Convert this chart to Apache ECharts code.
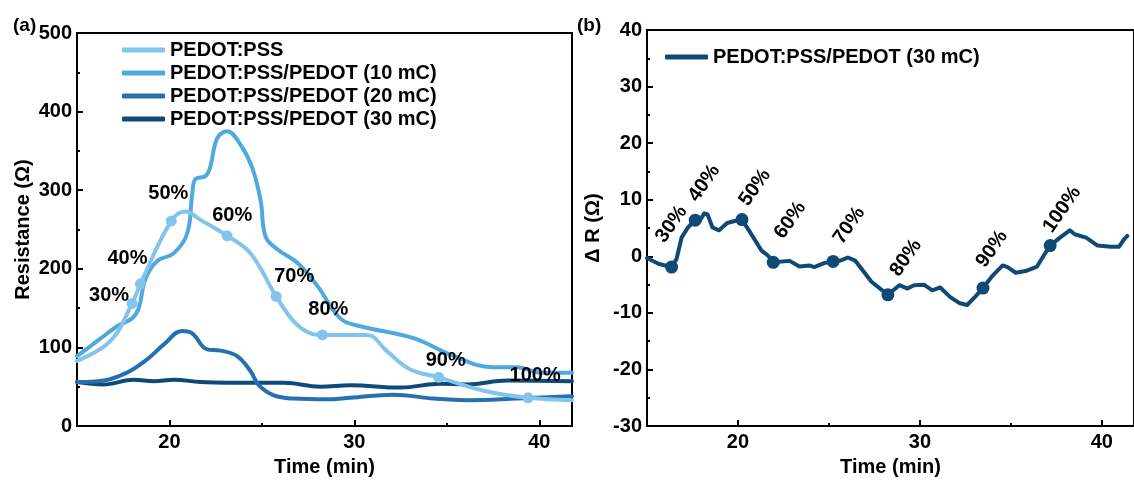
<!DOCTYPE html>
<html><head><meta charset="utf-8">
<script src="https://cdn.jsdelivr.net/npm/echarts@6/dist/echarts.min.js"></script>
<style>html,body{margin:0;padding:0;background:#fff}#c{width:1134px;height:482px}</style>
</head><body><div id="c"></div>
<script>
// ---------- data ----------
const seriesNames = ['PEDOT:PSS', 'PEDOT:PSS/PEDOT (10 mC)', 'PEDOT:PSS/PEDOT (20 mC)', 'PEDOT:PSS/PEDOT (30 mC)'];
const strainLabels = ['30%', '40%', '50%', '60%', '70%', '80%', '90%', '100%'];
const xTickLabels = [20, 30, 40];
const xMinorTicks = [25, 35];

const pssT = [15, 16.8, 17.98, 18.43, 20.1, 20.86, 21.7, 23.12, 24.38, 25.77, 26.73, 27.63, 28.27, 30.68, 31.77, 33.03, 34.56, 37.0, 39.4, 41.77];
const pssV = [83, 108, 156, 181, 261, 273, 262, 242, 220, 165, 133, 118, 116, 116, 95, 72, 62, 45, 36, 33];

const t10 = [15, 16.08, 17.17, 17.98, 18.34, 18.7, 19.33, 20.24, 20.96, 21.23, 21.4, 21.95, 22.2, 22.58, 23.12, 23.84, 24.47, 24.93, 25.2, 25.83, 26.9, 27.98, 29.24, 30.32, 33.2, 35.2, 37.45, 38.8, 40.07, 41.77];
const v10 = [89, 108, 127, 137, 150, 187, 210, 220, 245, 295, 314, 318, 329, 366, 375, 358, 329, 287, 241, 225, 208, 179, 137, 127, 112, 91, 75, 75, 68, 68];

const t20 = [15, 16.44, 17.7, 18.8, 19.7, 20.68, 21.23, 22.04, 22.76, 23.66, 24.38, 24.83, 25.65, 26.73, 28.5, 29.78, 32.1, 34.3, 36.1, 38.8, 41.77];
const v20 = [56, 58, 68, 85, 104, 121, 118, 97.5, 96, 89, 70, 52, 39, 35, 34, 36, 40, 35, 33, 35, 38];

const t30 = [15, 16.44, 18.07, 19.15, 20.24, 21.68, 23.12, 26.2, 28.16, 29.78, 32.5, 34.65, 36.1, 38.27, 41.77];
const v30 = [56, 53, 59, 57, 59, 56, 55, 55, 50, 52, 49, 54, 53, 58, 57];

const pssMarkT = [17.98, 18.43, 20.1, 23.12, 25.77, 28.27, 34.56, 39.4];
const pssMarkV = [156, 181, 261, 242, 165, 116, 62, 36];

const dT = [15, 15.63, 16.35, 16.62, 16.9, 17.25, 17.65, 17.88, 18.15, 18.33, 18.6, 18.96, 19.41, 19.77, 20.22, 20.68, 21.3, 21.66, 21.94, 22.84, 23.38, 23.92, 24.19, 24.73, 25.23, 25.63, 26.04, 26.44, 27.34, 28.24, 28.87, 29.32, 29.68, 30.22, 30.68, 31.12, 31.67, 32.2, 32.6, 33.02, 33.47, 34.0, 34.55, 34.82, 35.27, 35.81, 36.44, 36.8, 37.16, 37.7, 38.24, 38.51, 39.14, 39.77, 40.49, 40.95, 41.22, 41.4];
const dV = [-0.3, -1.3, -1.9, -0.5, 3.3, 5.1, 6.4, 6.2, 7.6, 7.4, 5.1, 4.6, 5.9, 6.2, 6.5, 4.2, 1.0, 0.1, -1.05, -0.8, -1.8, -1.6, -1.9, -1.2, -0.9, -0.75, -0.2, -0.75, -4.5, -6.8, -5.1, -5.7, -5.1, -5.0, -6.0, -5.5, -7.2, -8.3, -8.6, -7.2, -5.6, -3.4, -1.6, -1.9, -2.9, -2.6, -1.8, 0.1, 1.9, 3.3, 4.6, 3.9, 3.3, 1.9, 1.7, 1.7, 3.0, 3.6];

const dMarkT = [16.35, 17.65, 20.22, 21.94, 25.23, 28.24, 33.47, 37.16];
const dMarkV = [-1.9, 6.4, 6.5, -1.05, -0.9, -6.8, -5.6, 1.9];

// ---------- styling ----------
const FONT = "'Liberation Sans', Arial, sans-serif";
const colors = ['#82c4ec', '#4fa9df', '#2670b0', '#0e4a79'];
const rightColor = '#0f4a77';
const leftLabelOffsets = [[-23, -8], [-13, -25], [-3, -27], [5, -20], [18, -20], [6, -25], [7, -17], [7, -22]];
const rightLabelOffsets = [[0, -43], [9, -37], [13, -32], [17, -42], [16, -36], [18, -37], [9, -39], [12, -36]];

const zip = (a, b) => a.map((x, i) => [x, b[i]]);
const XMIN = 15, XMAX = 41.77;
const txt = { fontFamily: FONT, fontWeight: 'bold', fontSize: 20, color: '#000' };

function mainX(gridIndex) {
  return {
    type: 'value', gridIndex, min: XMIN, max: XMAX,
    name: 'Time (min)', nameLocation: 'middle', nameGap: 21,
    nameTextStyle: Object.assign({}, txt),
    axisLine: { show: true, onZero: false, lineStyle: { color: '#000', width: 2 } },
    axisTick: { show: true, inside: true, length: 6, lineStyle: { width: 2, color: '#000' }, customValues: xTickLabels },
    axisLabel: Object.assign({ margin: 6, customValues: xTickLabels }, txt),
    splitLine: { show: false }
  };
}
function minorX(gridIndex) {
  return {
    type: 'value', gridIndex, min: XMIN, max: XMAX, position: 'bottom',
    axisLine: { show: false, onZero: false },
    axisTick: { show: true, inside: true, length: 3, lineStyle: { width: 2, color: '#000' }, customValues: xMinorTicks },
    axisLabel: { show: false },
    splitLine: { show: false }
  };
}
function yAx(gridIndex, min, max, interval, name, gap) {
  return {
    type: 'value', gridIndex, min, max, interval,
    name, nameLocation: 'middle', nameGap: gap, nameTextStyle: Object.assign({}, txt),
    axisLine: { show: true, onZero: false, lineStyle: { color: '#000', width: 2 } },
    axisTick: { show: true, inside: true, length: 6, lineStyle: { width: 2, color: '#000' } },
    minorTick: { show: true, splitNumber: 2, length: 3, lineStyle: { width: 2, color: '#000' } },
    axisLabel: Object.assign({ margin: 5 }, txt),
    splitLine: { show: false }, minorSplitLine: { show: false }
  };
}
function lineSeries(name, data, color, xi, yi, smooth) {
  return {
    type: 'line', name, data, xAxisIndex: xi, yAxisIndex: yi,
    showSymbol: false, symbol: 'none', smooth, clip: true,
    lineStyle: { color, width: 4, cap: 'round', join: 'round' },
    itemStyle: { color }, z: 3
  };
}
function markSeries(ts, vs, color, size, xi, yi, offsets, rotate) {
  return {
    type: 'scatter', xAxisIndex: xi, yAxisIndex: yi, symbolSize: size, z: 5,
    itemStyle: { color, opacity: 1 },
    data: ts.map((t, i) => ({
      value: [t, vs[i]], name: strainLabels[i],
      label: {
        show: true, formatter: strainLabels[i],
        position: [size / 2 + offsets[i][0], size / 2 + offsets[i][1]],
        align: 'center', verticalAlign: 'middle', rotate,
        fontFamily: FONT, fontWeight: 'bold', fontSize: 20, color: '#000'
      }
    }))
  };
}

const option = {
  animation: false,
  backgroundColor: '#fff',
  grid: [
    { left: 77, top: 33, width: 495, height: 400, show: true, borderColor: '#000', borderWidth: 2, backgroundColor: 'transparent' },
    { left: 647, top: 30, width: 495, height: 401, show: true, borderColor: '#000', borderWidth: 2, backgroundColor: 'transparent' }
  ],
  xAxis: [mainX(0), minorX(0), mainX(1), minorX(1)],
  yAxis: [yAx(0, 0, 500, 100, 'Resistance (Ω)', 44), yAx(1, -30, 40, 10, 'Δ R (Ω)', 44)],
  legend: [
    { data: seriesNames, orient: 'vertical', left: 122, top: 40, padding: 0, icon: 'roundRect', itemWidth: 43, itemHeight: 5, itemGap: 3,
      textStyle: Object.assign({ lineHeight: 20 }, txt) },
    { data: ['PEDOT:PSS/PEDOT (30 mC) '], orient: 'vertical', left: 665, top: 47, padding: 0, icon: 'roundRect', itemWidth: 43, itemHeight: 5,
      textStyle: Object.assign({ lineHeight: 20 }, txt) }
  ],
  graphic: [
    { type: 'text', left: 13, top: 16, style: { text: '(a)', font: "bold 19px 'Liberation Sans', Arial, sans-serif", fill: '#000' } },
    { type: 'text', left: 577, top: 16, style: { text: '(b)', font: "bold 19px 'Liberation Sans', Arial, sans-serif", fill: '#000' } }
  ],
  series: [
    lineSeries(seriesNames[3], zip(t30, v30), colors[3], 0, 0, 0.4),
    lineSeries(seriesNames[2], zip(t20, v20), colors[2], 0, 0, 0.4),
    lineSeries(seriesNames[1], zip(t10, v10), colors[1], 0, 0, 0.4),
    lineSeries(seriesNames[0], zip(pssT, pssV), colors[0], 0, 0, 0.4),
    markSeries(pssMarkT, pssMarkV, colors[0], 11, 0, 0, leftLabelOffsets, 0),
    lineSeries('PEDOT:PSS/PEDOT (30 mC) ', zip(dT, dV), rightColor, 2, 1, false),
    markSeries(dMarkT, dMarkV, rightColor, 13, 2, 1, rightLabelOffsets, 55)
  ]
};
const chart = echarts.init(document.getElementById('c'), null, { renderer: 'canvas' });
chart.setOption(option);
</script></body></html>
